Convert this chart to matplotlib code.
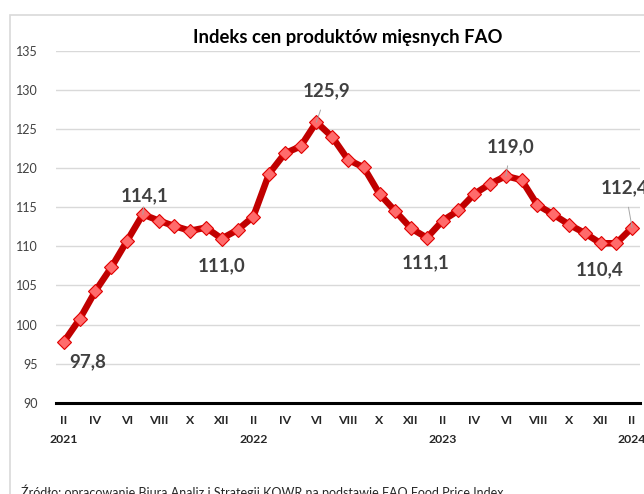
import numpy as np
import matplotlib.pyplot as plt
from matplotlib.patches import Rectangle
from matplotlib.transforms import blended_transform_factory

plt.rcParams['font.family'] = ['Lato', 'DejaVu Sans']

# indeks cen miesa FAO, II 2021 - II 2024
values = [97.8, 100.7, 104.3, 107.3, 110.7, 114.1, 113.3, 112.6, 112.0, 112.4, 111.0,
          112.1, 113.8, 119.3, 121.9, 122.8, 125.9, 124.0, 121.1, 120.1, 116.7, 114.5, 112.3,
          111.1, 113.3, 114.6, 116.7, 118.0, 119.0, 118.5, 115.3, 114.1, 112.8, 111.7, 110.4,
          110.4, 112.4]
month_labels = ['II', 'IV', 'VI', 'VIII', 'X', 'XII'] * 3 + ['II']
years = ['2021', '2022', '2023', '2024']
year_pos = [0, 12, 24, 36]

# etykiety danych: indeks punktu, pozycja tekstu, linia odniesienia
labels = [(0, 1.52, 95.2, False), (5, 5.13, 116.5, True), (10, 10.0, 107.5, False),
          (16, 16.67, 129.9, True), (23, 22.94, 107.9, False), (28, 28.33, 122.8, True),
          (34, 33.97, 106.95, False), (36, 35.55, 117.5, True)]

fig = plt.figure(figsize=(6.44, 4.94), dpi=100)
ax = fig.add_axes([56 / 644, 1 - 402.7 / 494, 584 / 644, (402.7 - 51) / 494])

fig.patches.append(Rectangle((10 / 644, -0.1), 1.0, 1 - 15 / 494 + 0.1, transform=fig.transFigure,
                             fill=False, edgecolor='#d9d9d9', lw=1.2))

x = np.arange(len(values))
ax.plot(x, values, color='#c00000', lw=4.7, zorder=3, solid_joinstyle='round')
ax.plot(x, values, ls='none', marker='D', ms=6.8, mfc='#ff6b6b', mec='#e00000', mew=0.8, zorder=4)

for i, tx, ty, lead in labels:
    txt = '{:.1f}'.format(values[i]).replace('.', ',')
    if lead:
        ax.annotate(txt, xy=(i, values[i]), xytext=(tx, ty), ha='center', va='center',
                    fontsize=13.5, fontweight='bold', color='#404040', zorder=5,
                    arrowprops=dict(arrowstyle='-', color='#a6a6a6', lw=0.7, shrinkA=6, shrinkB=0))
    else:
        ax.text(tx, ty, txt, ha='center', va='center', fontsize=13.5, fontweight='bold',
                color='#404040', zorder=5)

ax.set_xlim(-0.5, 36.5)
ax.set_ylim(90, 135)
ax.set_yticks(range(90, 136, 5))
ax.set_xticks(range(0, 37, 2))
ax.set_xticklabels(month_labels, fontweight='bold', fontsize=8.8, color='#262626')
ax.tick_params(axis='x', length=0, pad=9)
ax.tick_params(axis='y', length=0, pad=13, labelsize=9, labelcolor='#404040')
ax.grid(axis='y', color='#d9d9d9', lw=1)
ax.set_axisbelow(True)
for s in ['top', 'right', 'left']:
    ax.spines[s].set_visible(False)
ax.spines['bottom'].set_color('black')
ax.spines['bottom'].set_linewidth(2.2)
ax.spines['bottom'].set_zorder(2)

trans = blended_transform_factory(ax.transData, fig.transFigure)
for yr, p in zip(years, year_pos):
    ax.text(p, 1 - 439 / 494, yr, transform=trans, ha='center', va='center',
            fontsize=8.8, fontweight='bold', color='#262626', clip_on=False)

fig.text(348 / 644, 1 - 38 / 494, 'Indeks cen produktów mięsnych FAO', ha='center', va='center',
         fontsize=13.3, fontweight='bold', color='black')
fig.text(21 / 644, 1 - 492 / 494, 'Źródło: opracowanie Biura Analiz i Strategii KOWR na podstawie FAO Food Price Index',
         ha='left', va='center', fontsize=9, color='#262626')

fig.savefig('out.png', dpi=100)
